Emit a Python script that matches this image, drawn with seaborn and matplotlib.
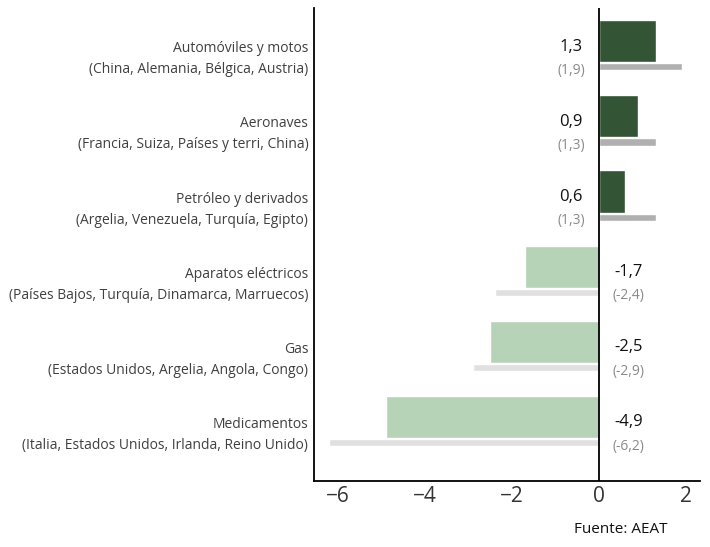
"""Exportaciones netas por producto: valor actual frente al anterior"""
import numpy as np
import pandas as pd
import seaborn as sns
from matplotlib import pyplot as plt
from matplotlib.transforms import ScaledTranslation

productos = [
    "Automóviles y motos",
    "Aeronaves",
    "Petróleo y derivados",
    "Aparatos eléctricos",
    "Gas",
    "Medicamentos",
]
paises = [
    "(China, Alemania, Bélgica, Austria)",
    "(Francia, Suiza, Países y terri, China)",
    "(Argelia, Venezuela, Turquía, Egipto)",
    "(Países Bajos, Turquía, Dinamarca, Marruecos)",
    "(Estados Unidos, Argelia, Angola, Congo)",
    "(Italia, Estados Unidos, Irlanda, Reino Unido)",
]
actual = [1.3, 0.9, 0.6, -1.7, -2.5, -4.9]
anterior = [1.9, 1.3, 1.3, -2.4, -2.9, -6.2]

sns.set_theme(style="white")
plt.rcParams["font.family"] = ["Open Sans", "DejaVu Sans"]

df = pd.DataFrame(
    {
        "Producto": [f"{p}\n{c}" for p, c in zip(productos, paises)],
        "Actual": actual,
        "Anterior": anterior,
    }
)
df["Color"] = np.where(df["Actual"] > 0, "#2d5a30", "#b3d7b3")

fig = plt.figure(figsize=(7.1, 5.47), dpi=100)
ax = fig.add_axes([0.442, 0.121, 0.544, 0.864])

pos = np.arange(len(df))
ax.barh(
    pos + 0.34,
    df["Anterior"],
    height=0.095,
    color=np.where(df["Anterior"] > 0, "#b0b0b0", "#e0e0e0"),
    zorder=1,
)
sns.barplot(
    data=df,
    y="Producto",
    x="Actual",
    hue="Producto",
    palette=dict(zip(df["Producto"], df["Color"])),
    width=0.56,
    legend=False,
    ax=ax,
    zorder=2,
)

for i, (a, p) in enumerate(zip(df["Actual"], df["Anterior"])):
    x = -0.64 if a > 0 else 0.68
    ax.text(x, i + 0.07, f"{a:.1f}".replace(".", ","), ha="center", va="center",
            fontsize=12, color="#111111")
    ax.text(x, i + 0.39, f"({p:.1f})".replace(".", ","), ha="center", va="center",
            fontsize=10, color="#8a8a8a")

ax.axvline(0, color="black", lw=1.3, zorder=3)
ax.set_xlim(-6.55, 2.32)
ax.set_ylim(5.85, -0.44)
ax.set_xticks([-6, -4, -2, 0, 2])
ax.tick_params(axis="x", labelsize=15, length=0, pad=4, colors="#333333")
ax.tick_params(axis="y", labelsize=10, length=0, pad=4, colors="#404040")
shift = ScaledTranslation(0, -0.13, fig.dpi_scale_trans)
for lab in ax.get_yticklabels():
    lab.set_linespacing(1.55)
    lab.set_transform(lab.get_transform() + shift)
ax.set_xlabel("")
ax.set_ylabel("")
sns.despine(ax=ax, top=True, right=True)
for s in ("left", "bottom"):
    ax.spines[s].set_color("black")
    ax.spines[s].set_linewidth(1.3)

fig.text(0.808, 0.018, "Fuente: AEAT", ha="left", va="bottom", fontsize=11, color="#111111")

fig.savefig("out.png", dpi=100)
